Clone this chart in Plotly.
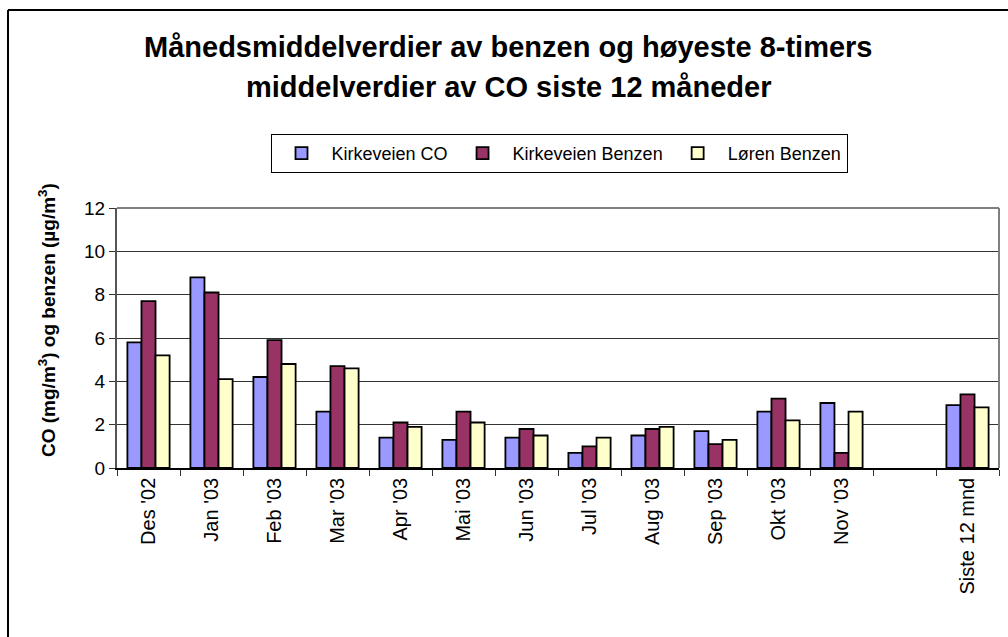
import plotly.graph_objects as go

categories = ["Des '02", "Jan '03", "Feb '03", "Mar '03", "Apr '03", "Mai '03", "Jun '03",
              "Jul '03", "Aug '03", "Sep '03", "Okt '03", "Nov '03", " ", "Siste 12 mnd"]
kirkeveien_co = [5.8, 8.8, 4.2, 2.6, 1.4, 1.3, 1.4, 0.7, 1.5, 1.7, 2.6, 3.0, None, 2.9]
kirkeveien_benzen = [7.7, 8.1, 5.9, 4.7, 2.1, 2.6, 1.8, 1.0, 1.8, 1.1, 3.2, 0.7, None, 3.4]
loren_benzen = [5.2, 4.1, 4.8, 4.6, 1.9, 2.1, 1.5, 1.4, 1.9, 1.3, 2.2, 2.6, None, 2.8]
series_names = ["Kirkeveien CO", "Kirkeveien Benzen", "Løren Benzen"]
colors = ["#9999FF", "#993366", "#FFFFCC"]
y_ticks = [0, 2, 4, 6, 8, 10, 12]

FONT = "Arial, Liberation Sans, sans-serif"
W, H = 1008, 637
L, R, T, B = 117, 9, 208, 169
pw = W - L - R
ph = H - T - B

def px(x):
    return (x - L) / pw

def py(y):
    return (H - B - y) / ph

fig = go.Figure()
for name, vals, col in zip(series_names, [kirkeveien_co, kirkeveien_benzen, loren_benzen], colors):
    fig.add_trace(go.Bar(x=categories, y=vals, name=name,
                         marker=dict(color=col, line=dict(color="black", width=1.8))))

fig.update_layout(
    width=W, height=H,
    margin=dict(l=L, r=R, t=T, b=B),
    paper_bgcolor="white", plot_bgcolor="white",
    barmode="group", bargap=0.33, bargroupgap=0,
    font=dict(family=FONT, color="black"),
    showlegend=True,
    legend=dict(orientation="h", x=px(559), xanchor="center", y=py(134), yanchor="top",
                bordercolor="black", borderwidth=1, bgcolor="white",
                font=dict(size=18, family=FONT), itemwidth=50,
                tracegroupgap=0),
    xaxis=dict(type="category", categoryorder="array", categoryarray=categories,
               tickangle=-90, tickfont=dict(size=20, family=FONT),
               ticks="outside", ticklen=6, tickcolor="#333333", tickson="boundaries",
               showline=True, linecolor="black", linewidth=1.5,
               showgrid=False, zeroline=False),
    yaxis=dict(range=[0, 12], tickvals=y_ticks, tickfont=dict(size=19, family=FONT),
               ticks="outside", ticklen=6, tickcolor="#333333",
               showline=True, linecolor="#555555", linewidth=2,
               showgrid=True, gridcolor="#333333", gridwidth=1, zeroline=False),
    annotations=[
        dict(text="<b>Månedsmiddelverdier av benzen og høyeste 8-timers</b>",
             xref="paper", yref="paper", x=px(508), y=py(47), xanchor="center", yanchor="middle",
             showarrow=False, font=dict(size=29, family=FONT)),
        dict(text="<b>middelverdier av CO siste 12 måneder</b>",
             xref="paper", yref="paper", x=px(508), y=py(87), xanchor="center", yanchor="middle",
             showarrow=False, font=dict(size=29, family=FONT)),
        dict(text="<b>CO (mg/m<sup>3</sup>) og benzen (µg/m<sup>3</sup>)</b>",
             xref="paper", yref="paper", x=px(47), y=py(320), xanchor="center", yanchor="middle",
             textangle=-90, showarrow=False, font=dict(size=19, family=FONT)),
    ],
    shapes=[
        dict(type="line", xref="paper", yref="paper", x0=0, x1=1, y0=1, y1=1,
             line=dict(color="#808080", width=2)),
        dict(type="line", xref="paper", yref="paper", x0=1, x1=1, y0=0, y1=1,
             line=dict(color="#808080", width=2)),
        dict(type="line", xref="paper", yref="paper", x0=px(8), x1=px(8), y0=py(637), y1=py(10),
             line=dict(color="black", width=2)),
        dict(type="line", xref="paper", yref="paper", x0=px(8), x1=px(1008), y0=py(10), y1=py(10),
             line=dict(color="black", width=2)),
    ],
)

fig.write_html("out.html", config={"displayModeBar": False},
               post_script="document.body.style.margin='0';document.body.style.padding='0';")
